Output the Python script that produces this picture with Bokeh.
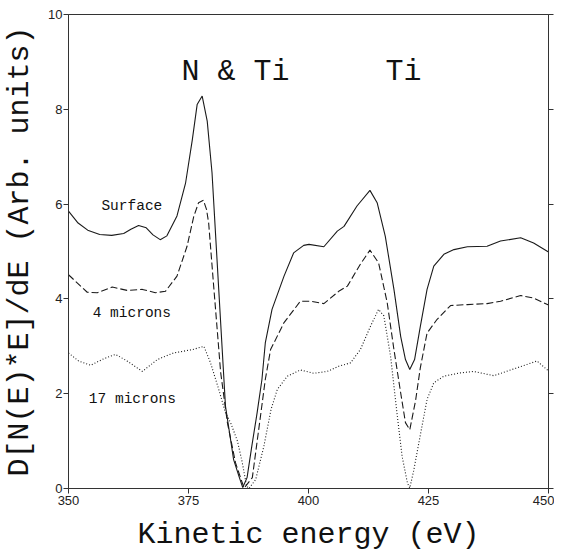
from bokeh.plotting import figure
from bokeh.models import Range1d, LinearAxis, FixedTicker, Label, CustomJSTickFormatter
from bokeh.embed import file_html
from bokeh.resources import INLINE

# ---- data ----
surface_x = [350, 352, 354, 356.5, 359, 361.5, 363, 364.6, 366.2, 367.6, 369.1, 370.5,
             372.6, 374.4, 375.8, 376.8, 377.85, 378.9, 379.9, 381.3, 382.7, 384.4,
             385.5, 386.3, 387.2, 388.2, 389.3, 390.3, 391.0, 392.4, 394.9, 396.9,
             399.0, 400.1, 403.2, 406.0, 407.4, 410.1, 412.8, 414.3, 416.0, 417.8,
             419.2, 420.2, 421.1, 422.1, 423.3, 424.7, 426.1, 428.2, 430.3, 433.1,
             437.2, 440, 444.2, 446.9, 450]
surface_y = [5.85, 5.6, 5.45, 5.36, 5.34, 5.38, 5.47, 5.55, 5.5, 5.35, 5.25, 5.33,
             5.75, 6.45, 7.36, 8.10, 8.28, 7.75, 6.66, 4.2, 1.74, 0.61,
             0.26, 0.02, 0.23, 0.9, 1.6, 2.3, 3.07, 3.78, 4.48, 4.97,
             5.13, 5.15, 5.10, 5.43, 5.53, 5.96, 6.29, 6.03, 5.32, 4.2,
             3.21, 2.72, 2.51, 2.72, 3.42, 4.2, 4.69, 4.94, 5.04, 5.10,
             5.11, 5.22, 5.29, 5.18, 4.99]

microns4_x = [350, 351.8, 353.9, 356, 359.1, 362.2, 365.4, 368.1, 370.2, 372.6, 374.7,
              376.1, 377.1, 378.1, 378.75, 379.2, 380.3, 381.7, 383.1, 384.8, 386.2,
              386.6, 388.3, 390.0, 391.0, 392.1, 394.9, 398.3, 400.5, 403.2, 406.3,
              408.1, 410.8, 412.8, 414.6, 416.4, 417.8, 419.2, 420.2, 421.1, 422.3,
              423.3, 424.7, 426.8, 429.6, 433.1, 437.2, 440, 444.2, 446.9, 450]
microns4_y = [4.51, 4.34, 4.14, 4.13, 4.25, 4.18, 4.20, 4.13, 4.16, 4.48, 5.11,
              5.74, 6.03, 6.08, 5.89, 5.6, 4.2, 2.45, 1.39, 0.54, 0.12,
              0.01, 0.23, 1.53, 2.3, 2.93, 3.5, 3.95, 3.95, 3.9, 4.16,
              4.27, 4.73, 5.03, 4.76, 3.92, 2.93, 2.02, 1.39, 1.24, 1.85,
              2.55, 3.28, 3.57, 3.86, 3.88, 3.90, 3.95, 4.07, 4.02, 3.87]

microns17_x = [350, 352.1, 354.6, 357.4, 359.8, 362.2, 365.4, 368.5, 371.9, 375.8,
               378.2, 379.6, 381.3, 382.7, 383.8, 385.2, 386.2, 387.1, 387.6, 389,
               390.7, 392.2, 393.5, 395.6, 398.3, 401.1, 403.9, 406.3, 408.75, 410.8,
               412.9, 414.6, 415.7, 417.1, 418.5, 419.5, 420.6, 421.1, 421.9, 423.3,
               424.7, 426.1, 428.2, 431.7, 434.4, 438.6, 442.1, 445.6, 447.6, 450]
microns17_y = [2.86, 2.69, 2.6, 2.74, 2.83, 2.69, 2.47, 2.72, 2.86, 2.93,
               3.0, 2.65, 2.09, 1.6, 1.38, 1.0, 0.55, 0.05, 0.0, 0.19,
               0.89, 1.67, 2.09, 2.37, 2.5, 2.43, 2.47, 2.58, 2.65, 2.93,
               3.42, 3.78, 3.64, 2.79, 1.53, 0.68, 0.12, 0.01, 0.37, 1.13,
               1.88, 2.23, 2.37, 2.44, 2.47, 2.38, 2.5, 2.62, 2.69, 2.48]

x_ticks = [350, 375, 400, 425, 450]
y_ticks = [0, 2, 4, 6, 8, 10]

MONO = "Liberation Mono"
SANS = "Liberation Sans"

p = figure(frame_width=480, frame_height=474,
           x_range=Range1d(350, 450), y_range=Range1d(0, 10),
           output_backend="svg", toolbar_location=None,
           x_axis_location=None, y_axis_location=None,
           min_border_left=67, min_border_right=6, min_border_top=14, min_border_bottom=68)
p.grid.visible = False
p.outline_line_color = "#333333"
p.outline_line_width = 1
p.background_fill_color = "white"
p.border_fill_color = "white"

def style_axis(ax, labels=True):
    ax.axis_line_color = "#333333"
    ax.major_tick_line_color = "#333333"
    ax.major_tick_out = 5
    ax.major_tick_in = 0
    ax.minor_tick_line_color = None
    ax.major_label_text_font = SANS
    ax.major_label_text_font_size = "13px"
    ax.major_label_text_color = "#222222"
    ax.major_label_standoff = 2 if labels else 0
    ax.axis_label_text_font = MONO
    ax.axis_label_text_font_size = "30px"
    ax.axis_label_text_font_style = "normal"
    ax.axis_label_text_color = "#111111"
    if not labels:
        ax.formatter = CustomJSTickFormatter(code="return '';")

bottom = LinearAxis(ticker=FixedTicker(ticks=x_ticks), axis_label="Kinetic energy (eV)")
style_axis(bottom)
bottom.axis_label_standoff = 10
p.add_layout(bottom, "below")

left = LinearAxis(ticker=FixedTicker(ticks=y_ticks), axis_label="D[N(E)*E]/dE (Arb. units)")
style_axis(left)
left.major_label_standoff = 1
left.axis_label_standoff = 8
p.add_layout(left, "left")

right = LinearAxis(ticker=FixedTicker(ticks=y_ticks))
style_axis(right, labels=False)
p.add_layout(right, "right")

p.line(surface_x, surface_y, line_color="#1a1a1a", line_width=1.1)
p.line(microns4_x, microns4_y, line_color="#1a1a1a", line_width=1.1, line_dash="7 3")
p.line(microns17_x, microns17_y, line_color="#1a1a1a", line_width=1.1, line_dash="1 2")

def lab(x, y, text, size):
    p.add_layout(Label(x=x, y=y, text=text, text_font=MONO, text_font_size=size,
                       text_color="#111111", text_align="center",
                       text_baseline="alphabetic"))

lab(384.8, 8.78, "N & Ti", "30px")
lab(419.8, 8.78, "Ti", "30px")
lab(363.2, 5.97, "Surface", "14.5px")
lab(363.2, 3.71, "4 microns", "14.5px")
lab(363.3, 1.88, "17 microns", "14.5px")

open("out.html", "w").write(file_html(p, INLINE))
